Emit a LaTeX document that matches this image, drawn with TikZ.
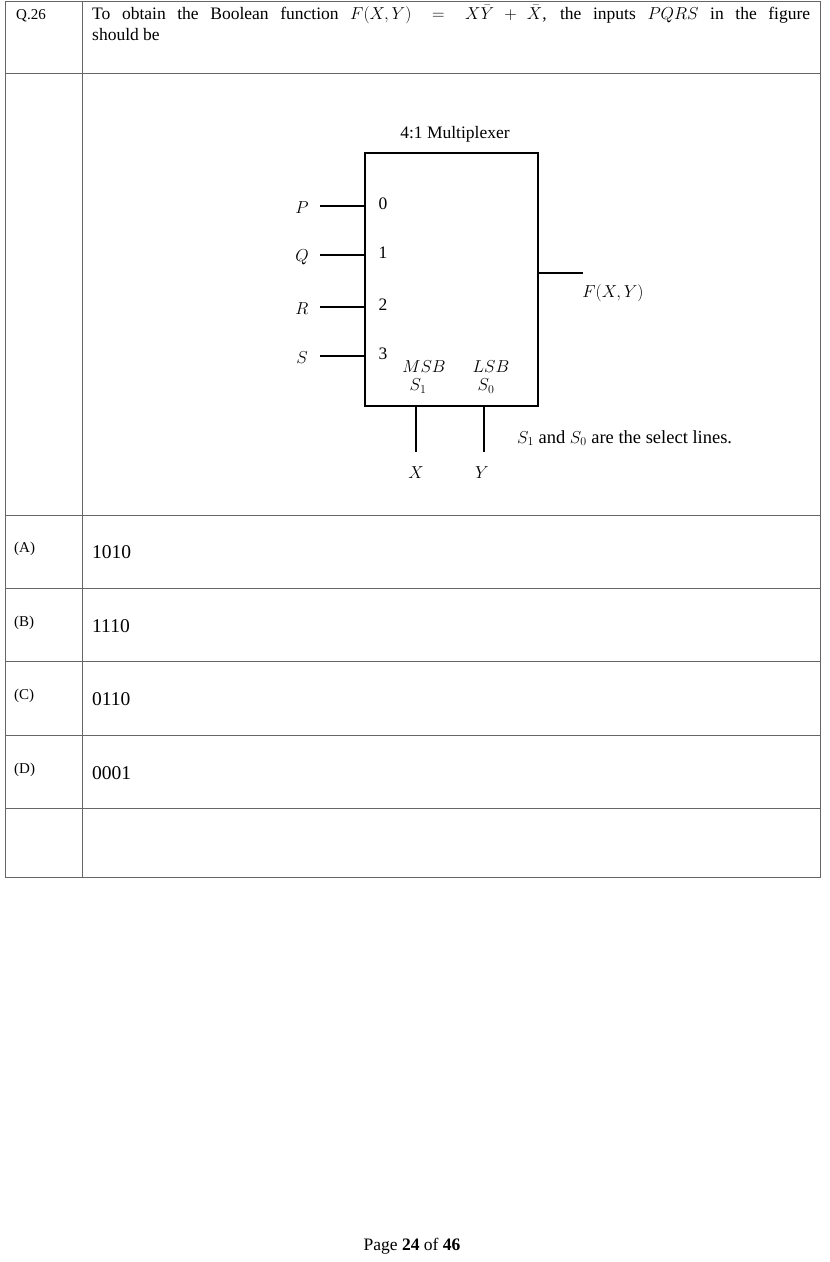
\documentclass[tikz,border=0pt]{standalone}
\usepackage{fontspec}
\setmainfont{Liberation Serif}
\usetikzlibrary{positioning}
\tikzset{
  grid/.style={draw=black!60, line width=0.8pt},
  wire/.style={line width=1.6pt},
  txt/.style={inner sep=0pt, font=\fontsize{17.5}{21}\selectfont},
  small/.style={inner sep=0pt, font=\fontsize{15}{18}\selectfont},
}
\begin{document}
\begin{tikzpicture}[x=1pt,y=-1pt]
    \useasboundingbox (0,0) rectangle (830,1262);

    % Table frame
    \draw[grid] (5,1) rectangle (820,877);
    \draw[grid] (82,1) -- (82,877);
    \foreach \yy in {73,515,588,661,735,808}
      \draw[grid] (5,\yy) -- (820,\yy);

    % Question
    \node[small, anchor=west] (qno) at (16,16) {Q.26};
    \node[txt, anchor=north west, text width=718pt, align=justify] (qtext) at (92,5)
      {To obtain the Boolean function $F(X,Y)=X\bar{Y}+\bar{X}$, the inputs $PQRS$ in the figure\linebreak should be};

    % Multiplexer
    \draw[wire] (365,153) rectangle (538,406);
    \node[txt] (title) at (455,134) {4:1 Multiplexer};
    \foreach \nm/\yy/\k in {P/206/0, Q/255/1, R/307/2, S/356/3} {
      \coordinate (in\k) at (320,\yy);
      \coordinate (pin\k) at (365,\yy);
      \draw[wire] (in\k) -- (pin\k);
      \node[txt] (lab\k) at (302,\yy+2) {$\nm$};
      \node[txt] (num\k) at (383,\yy-2) {\k};
    }
    \coordinate (out0) at (538,273);
    \coordinate (out1) at (583,273);
    \draw[wire] (out0) -- (out1);
    \node[txt] (fout) at (613,293) {$F(X,Y)$};

    \coordinate (s1a) at (416,406);
    \coordinate (s1b) at (416,452);
    \coordinate (s0a) at (484,406);
    \coordinate (s0b) at (484,452);
    \draw[wire] (s1a) -- (s1b);
    \draw[wire] (s0a) -- (s0b);
    \node[txt] (msb) at (424,367) {$MSB$};
    \node[txt] (s1) at (418,386) {$S_1$};
    \node[txt] (lsb) at (491,367) {$LSB$};
    \node[txt] (s0) at (486,386) {$S_0$};
    \node[txt] (xin) at (416,473) {$X$};
    \node[txt] (yin) at (482,473) {$Y$};
    \node[txt, anchor=west, font=\fontsize{18.5}{22}\selectfont] (note) at (517,438) {$S_1$ and $S_0$ are the select lines.};

    % Options
    \foreach \lt/\val/\yy in {A/1010/552, B/1110/626, C/0110/699, D/0001/773} {
      \node[small, anchor=west] (opt\lt) at (14,\yy-3) {(\lt)};
      \node[txt, anchor=west, font=\fontsize{19.5}{23}\selectfont] (val\lt) at (92,\yy) {\val};
    }

    % Footer
    \node[txt] (page) at (412,1246) {Page \textbf{24} of \textbf{46}};
\end{tikzpicture}
\end{document}
